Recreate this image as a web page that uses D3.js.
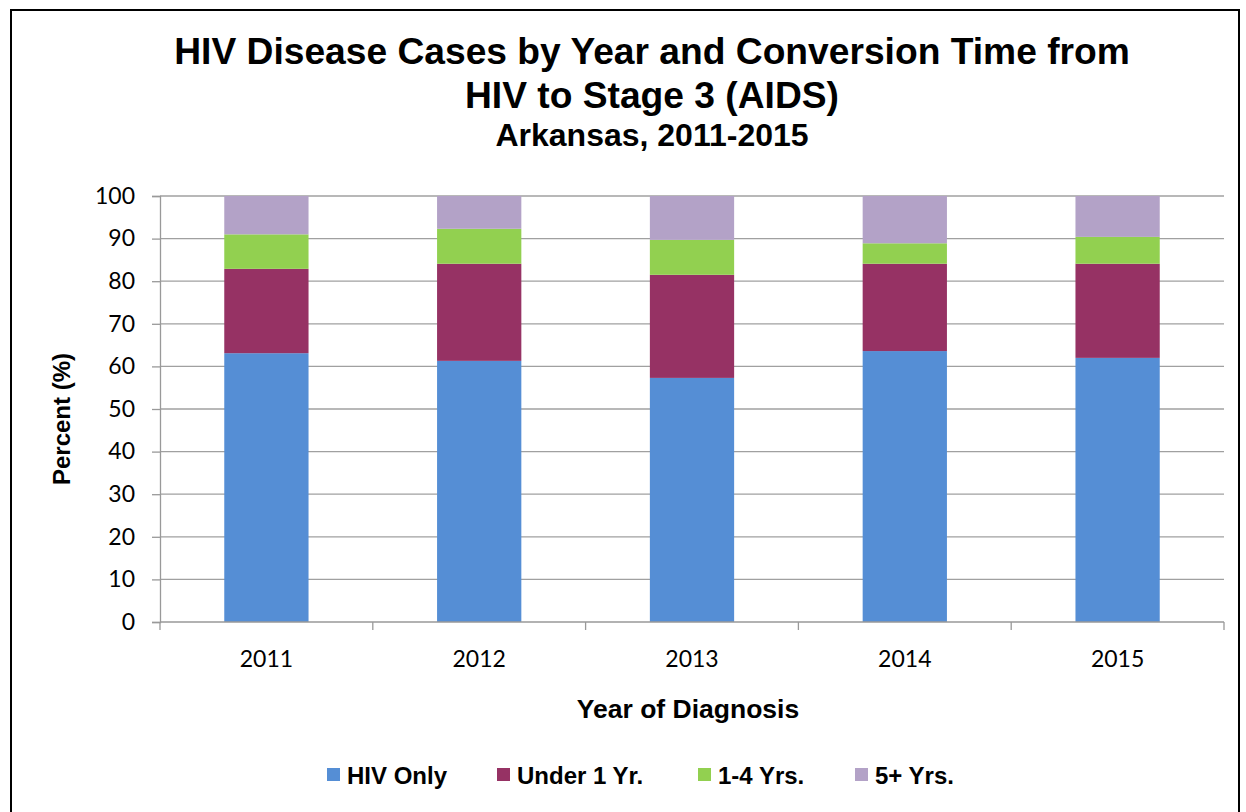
<!DOCTYPE html>
<html>
<head>
<meta charset="utf-8">
<script src="https://cdn.jsdelivr.net/npm/d3@7"></script>
<style>
  html, body { margin: 0; padding: 0; background: #fff; }
  svg { display: block; }
</style>
</head>
<body>
<script>
// Percent of HIV disease cases by conversion time, Arkansas
const years = ["2011", "2012", "2013", "2014", "2015"];
const seriesNames = ["HIV Only", "Under 1 Yr.", "1-4 Yrs.", "5+ Yrs."];
const hivOnly   = [63.1, 61.3, 57.3, 63.6, 62.0];
const under1Yr  = [19.8, 22.8, 24.2, 20.5, 22.1];
const oneToFour = [8.1, 8.2, 8.2, 4.8, 6.3];
const fivePlus  = [9.0, 7.7, 10.3, 11.1, 9.6];
const yTicks = [0, 10, 20, 30, 40, 50, 60, 70, 80, 90, 100];
const colors = ["#558ED5", "#963264", "#92D050", "#B3A2C7"];

const W = 1246, H = 812;
const plot = { left: 160, right: 1224, top: 196, bottom: 622 };

const svg = d3.select("body").append("svg")
  .attr("width", W).attr("height", H);

// outer frame
svg.append("rect")
  .attr("x", 11).attr("y", 10)
  .attr("width", 1228).attr("height", 810)
  .attr("fill", "#fff").attr("stroke", "#000").attr("stroke-width", 2);

const rows = years.map((y, i) => ({
  year: y,
  "HIV Only": hivOnly[i],
  "Under 1 Yr.": under1Yr[i],
  "1-4 Yrs.": oneToFour[i],
  "5+ Yrs.": fivePlus[i]
}));
const stacked = d3.stack().keys(seriesNames)(rows);

const x = d3.scaleBand().domain(years)
  .range([plot.left, plot.right]).paddingInner(0.604).paddingOuter(0.302);
const xOuter = d3.scaleBand().domain(years).range([plot.left, plot.right]);
const y = d3.scaleLinear().domain([0, 100]).range([plot.bottom, plot.top]);

// gridlines
svg.append("g").selectAll("line").data(yTicks.filter(t => t > 0)).join("line")
  .attr("x1", plot.left).attr("x2", plot.right)
  .attr("y1", d => y(d)).attr("y2", d => y(d))
  .attr("stroke", "#a0a0a0").attr("stroke-width", 1.3);

// bars
svg.append("g").selectAll("g").data(stacked).join("g")
  .attr("fill", (d, i) => colors[i])
  .selectAll("rect").data(d => d).join("rect")
  .attr("x", d => x(d.data.year))
  .attr("width", x.bandwidth())
  .attr("y", d => y(d[1]))
  .attr("height", d => y(d[0]) - y(d[1]));

const tickFont = "Lato, 'Liberation Sans', sans-serif";
const bold = "'Liberation Sans', Arial, sans-serif";

// y axis
const yAxis = d3.axisLeft(y).tickValues(yTicks).tickSize(8).tickPadding(17);
const gy = svg.append("g").attr("transform", `translate(${plot.left},0)`).call(yAxis);
gy.select(".domain").attr("stroke", "#999").attr("stroke-width", 1.3);
gy.selectAll(".tick line").attr("stroke", "#999").attr("stroke-width", 1.3);
gy.selectAll(".tick text")
  .attr("font-family", tickFont)
  .attr("font-size", 23).attr("fill", "#000");

// x axis with ticks at category boundaries
const gx = svg.append("g").attr("transform", `translate(0,${plot.bottom})`);
gx.append("line").attr("x1", plot.left).attr("x2", plot.right)
  .attr("stroke", "#999").attr("stroke-width", 1.3);
const bounds = years.map(d => xOuter(d)).concat([plot.right]);
gx.selectAll("line.tk").data(bounds).join("line").attr("class", "tk")
  .attr("x1", d => d).attr("x2", d => d).attr("y1", 0).attr("y2", 8)
  .attr("stroke", "#999").attr("stroke-width", 1.3);
gx.selectAll("text").data(years).join("text")
  .attr("x", d => xOuter(d) + xOuter.bandwidth() / 2)
  .attr("y", 45)
  .attr("text-anchor", "middle")
  .attr("font-family", tickFont)
  .attr("font-size", 23).attr("fill", "#000")
  .text(d => d);

// titles
svg.append("text").attr("x", 652).attr("y", 64).attr("text-anchor", "middle")
  .attr("font-family", bold).attr("font-weight", "bold").attr("font-size", 37.2)
  .text("HIV Disease Cases by Year and Conversion Time from");
svg.append("text").attr("x", 652).attr("y", 108).attr("text-anchor", "middle")
  .attr("font-family", bold).attr("font-weight", "bold").attr("font-size", 37.2)
  .text("HIV to Stage 3 (AIDS)");
svg.append("text").attr("x", 652).attr("y", 146).attr("text-anchor", "middle")
  .attr("font-family", bold).attr("font-weight", "bold").attr("font-size", 32)
  .text("Arkansas, 2011-2015");

// axis titles
svg.append("text")
  .attr("transform", `translate(70,419) rotate(-90)`)
  .attr("text-anchor", "middle")
  .attr("font-family", bold).attr("font-weight", "bold").attr("font-size", 24)
  .text("Percent (%)");
svg.append("text").attr("x", 688).attr("y", 718).attr("text-anchor", "middle")
  .attr("font-family", bold).attr("font-weight", "bold").attr("font-size", 26.5)
  .text("Year of Diagnosis");

// legend
const legendX = [327, 497, 698, 855];
const lg = svg.append("g").selectAll("g").data(seriesNames).join("g")
  .attr("transform", (d, i) => `translate(${legendX[i]},768)`);
lg.append("rect").attr("width", 13).attr("height", 13)
  .attr("fill", (d, i) => colors[i]);
lg.append("text")
  .attr("x", 20).attr("y", 15.5)
  .attr("font-family", bold).attr("font-weight", "bold").attr("font-size", 24)
  .text(d => d);
</script>
</body>
</html>
